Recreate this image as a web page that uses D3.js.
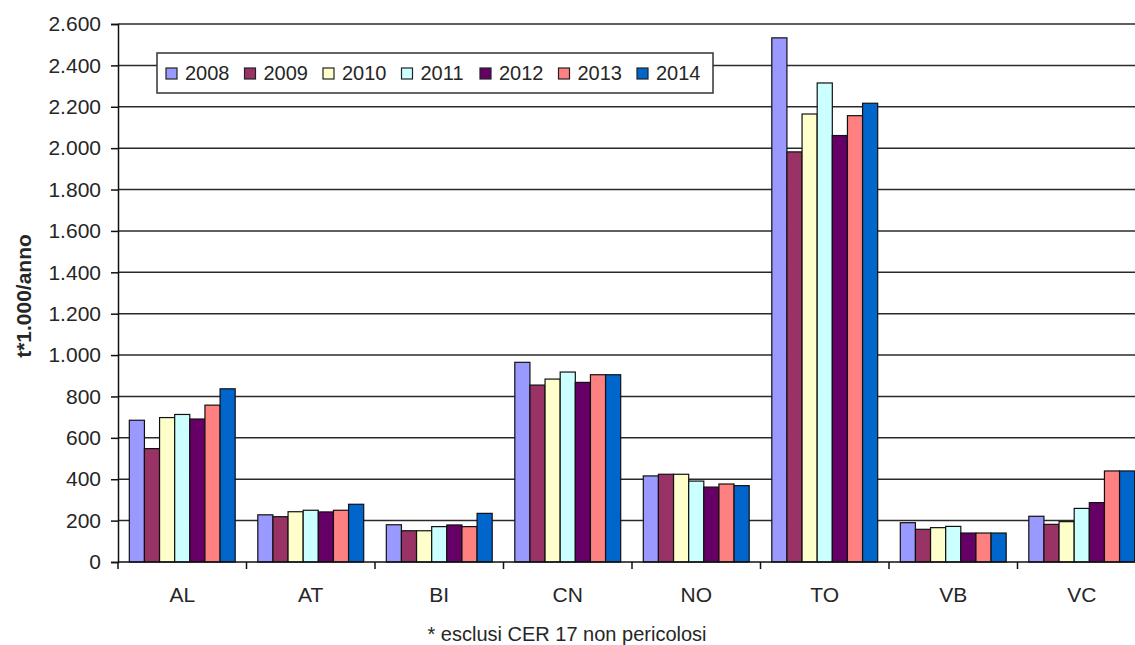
<!DOCTYPE html>
<html>
<head>
<meta charset="utf-8">
<script src="https://cdn.jsdelivr.net/npm/d3@7"></script>
<style>
  html, body { margin: 0; padding: 0; background: #fff; }
  svg { display: block; }
  text { font-family: "Liberation Sans", Arial, sans-serif; fill: #262626; }
</style>
</head>
<body>
<svg id="chart" width="1135" height="645"></svg>
<script>
const categories = ["AL", "AT", "BI", "CN", "NO", "TO", "VB", "VC"];
const years = ["2008", "2009", "2010", "2011", "2012", "2013", "2014"];
const colors = ["#9999FF", "#993366", "#FFFFCC", "#CCFFFF", "#660066", "#FF8080", "#0066CC"];
const v2008 = [685, 228, 180, 965, 416, 2533, 190, 221];
const v2009 = [548, 219, 151, 855, 424, 1982, 158, 182];
const v2010 = [698, 243, 151, 884, 424, 2165, 166, 195];
const v2011 = [713, 250, 171, 918, 391, 2315, 172, 259];
const v2012 = [691, 242, 179, 868, 362, 2061, 140, 287];
const v2013 = [758, 250, 171, 905, 377, 2157, 140, 440];
const v2014 = [837, 279, 235, 905, 369, 2217, 140, 440];
const series = [v2008, v2009, v2010, v2011, v2012, v2013, v2014];
const yTicks = [0, 200, 400, 600, 800, 1000, 1200, 1400, 1600, 1800, 2000, 2200, 2400, 2600];
const yLabel = "t*1.000/anno";
const footnote = "* esclusi CER 17 non pericolosi";

const svg = d3.select("#chart");
const pLeft = 118, pRight = 1146, pTop = 24, pBottom = 562;

const y = d3.scaleLinear().domain([0, 2600]).range([pBottom, pTop]);
const x0 = d3.scaleBand().domain(categories).range([pLeft, pRight]).paddingInner(0.176).paddingOuter(0.088);
const x1 = d3.scaleBand().domain(years).range([0, x0.bandwidth()]);
const xEdge = d3.scaleLinear().domain([0, categories.length]).range([pLeft, pRight]);

// gridlines
svg.append("g").selectAll("line").data(yTicks.filter(d => d > 0)).join("line")
  .attr("x1", pLeft).attr("x2", 1135)
  .attr("y1", d => y(d)).attr("y2", d => y(d))
  .attr("stroke", "#2a2a2a").attr("stroke-width", 1.5);

// bars
const groups = svg.append("g").selectAll("g").data(categories).join("g")
  .attr("transform", d => `translate(${x0(d)},0)`);
groups.selectAll("rect")
  .data((c, ci) => years.map((yr, si) => ({ yr, si, v: series[si][ci] })))
  .join("rect")
  .attr("x", d => x1(d.yr))
  .attr("width", x1.bandwidth())
  .attr("y", d => y(d.v))
  .attr("height", d => y(0) - y(d.v))
  .attr("fill", d => colors[d.si])
  .attr("stroke", "#111").attr("stroke-width", 1.2);

// y axis
const yAxis = d3.axisLeft(y).tickValues(yTicks).tickSize(7).tickPadding(10)
  .tickFormat(d => d3.format(",")(d).replace(/,/g, "."));
const gy = svg.append("g").attr("transform", `translate(${pLeft},0)`).call(yAxis);
gy.select(".domain").attr("stroke", "#111").attr("stroke-width", 1.5);
gy.selectAll(".tick line").attr("stroke", "#111").attr("stroke-width", 1.5);
gy.selectAll(".tick text").attr("font-size", 21).attr("fill", "#262626")
  .attr("font-family", "'Liberation Sans', Arial, sans-serif");

// x axis baseline and ticks
const gx = svg.append("g");
gx.append("line").attr("x1", pLeft).attr("x2", 1135).attr("y1", y(0)).attr("y2", y(0))
  .attr("stroke", "#111").attr("stroke-width", 1.5);
gx.selectAll("line.tk").data(d3.range(categories.length + 1)).join("line").attr("class", "tk")
  .attr("x1", d => xEdge(d)).attr("x2", d => xEdge(d))
  .attr("y1", y(0)).attr("y2", y(0) + 7)
  .attr("stroke", "#111").attr("stroke-width", 1.5);
gx.selectAll("text").data(categories).join("text")
  .attr("x", d => x0(d) + x0.bandwidth() / 2)
  .attr("y", 602)
  .attr("text-anchor", "middle")
  .attr("font-size", 21)
  .text(d => d);

// y label
svg.append("text")
  .attr("transform", `translate(31,296) rotate(-90)`)
  .attr("text-anchor", "middle")
  .attr("font-size", 21).attr("font-weight", "bold")
  .text(yLabel);

// footnote
svg.append("text")
  .attr("x", 567).attr("y", 641)
  .attr("text-anchor", "middle")
  .attr("font-size", 20)
  .text(footnote);

// legend
const lg = svg.append("g");
lg.append("rect").attr("x", 157).attr("y", 53).attr("width", 556).attr("height", 40)
  .attr("fill", "#fff").attr("stroke", "#333").attr("stroke-width", 1.5);
const items = lg.selectAll("g").data(years).join("g")
  .attr("transform", (d, i) => `translate(${166 + i * 78.5},0)`);
items.append("rect").attr("x", 0).attr("y", 68).attr("width", 11).attr("height", 11)
  .attr("fill", (d, i) => colors[i]).attr("stroke", "#222").attr("stroke-width", 1.2);
items.append("text").attr("x", 19).attr("y", 80).attr("font-size", 20).text(d => d);
</script>
</body>
</html>
